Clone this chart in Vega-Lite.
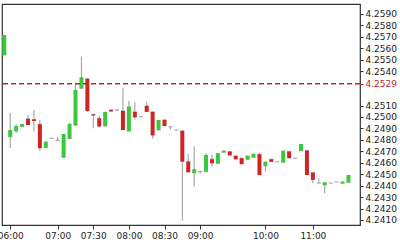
{
  "$schema": "https://vega.github.io/schema/vega-lite/v6.json",
  "width": 358,
  "height": 221,
  "autosize": {"type": "none"},
  "padding": {"left": 2, "top": 4, "right": 40, "bottom": 22},
  "background": "white",
  "config": {
    "view": {"stroke": "#333333", "strokeWidth": 1.2},
    "axis": {"labelFont": "DejaVu Sans", "labelFontSize": 9, "labelColor": "#222222", "grid": false, "domain": false, "title": null, "labelOverlap": false}
  },
  "data": {"values": [
    {"i": -1, "o": 4.25542, "h": 4.25717, "l": 4.25542, "c": 4.25717},
    {"i": 0, "o": 4.24828, "h": 4.25035, "l": 4.24729, "c": 4.24886},
    {"i": 1, "o": 4.24878, "h": 4.24939, "l": 4.24860, "c": 4.24921},
    {"i": 2, "o": 4.24917, "h": 4.24939, "l": 4.24917, "c": 4.24939},
    {"i": 3, "o": 4.24983, "h": 4.25017, "l": 4.24930, "c": 4.24930},
    {"i": 4, "o": 4.24978, "h": 4.25061, "l": 4.24873, "c": 4.24965},
    {"i": 5, "o": 4.24936, "h": 4.24974, "l": 4.24703, "c": 4.24727},
    {"i": 6, "o": 4.24734, "h": 4.24790, "l": 4.24729, "c": 4.24784},
    {"i": 7, "o": 4.24814, "h": 4.24817, "l": 4.24810, "c": 4.24814},
    {"i": 8, "o": 4.24795, "h": 4.24825, "l": 4.24795, "c": 4.24795},
    {"i": 9, "o": 4.24648, "h": 4.24851, "l": 4.24648, "c": 4.24851},
    {"i": 10, "o": 4.24812, "h": 4.24948, "l": 4.24808, "c": 4.24939},
    {"i": 11, "o": 4.24930, "h": 4.25288, "l": 4.24921, "c": 4.25236},
    {"i": 12, "o": 4.25251, "h": 4.25529, "l": 4.25249, "c": 4.25347},
    {"i": 13, "o": 4.25332, "h": 4.25341, "l": 4.25044, "c": 4.25052},
    {"i": 14, "o": 4.25022, "h": 4.25026, "l": 4.24901, "c": 4.25013},
    {"i": 15, "o": 4.24987, "h": 4.25009, "l": 4.24913, "c": 4.24917},
    {"i": 16, "o": 4.24921, "h": 4.25044, "l": 4.24921, "c": 4.25044},
    {"i": 17, "o": 4.25061, "h": 4.25066, "l": 4.25046, "c": 4.25048},
    {"i": 18, "o": 4.25061, "h": 4.25066, "l": 4.25057, "c": 4.25061},
    {"i": 19, "o": 4.25052, "h": 4.25251, "l": 4.24886, "c": 4.24886},
    {"i": 20, "o": 4.24878, "h": 4.25140, "l": 4.24878, "c": 4.25092},
    {"i": 21, "o": 4.25044, "h": 4.25131, "l": 4.24978, "c": 4.24997},
    {"i": 22, "o": 4.25003, "h": 4.25006, "l": 4.25000, "c": 4.25003},
    {"i": 23, "o": 4.25096, "h": 4.25134, "l": 4.25041, "c": 4.25044},
    {"i": 24, "o": 4.25044, "h": 4.25044, "l": 4.24812, "c": 4.24838},
    {"i": 25, "o": 4.24886, "h": 4.24974, "l": 4.24886, "c": 4.24974},
    {"i": 26, "o": 4.24974, "h": 4.24974, "l": 4.24921, "c": 4.24921},
    {"i": 27, "o": 4.24914, "h": 4.24914, "l": 4.24891, "c": 4.24914},
    {"i": 28, "o": 4.24886, "h": 4.24886, "l": 4.24886, "c": 4.24886},
    {"i": 29, "o": 4.24878, "h": 4.24878, "l": 4.24094, "c": 4.24609},
    {"i": 30, "o": 4.24609, "h": 4.24674, "l": 4.24508, "c": 4.24517},
    {"i": 31, "o": 4.24513, "h": 4.24740, "l": 4.24391, "c": 4.24543},
    {"i": 32, "o": 4.24524, "h": 4.24528, "l": 4.24502, "c": 4.24524},
    {"i": 33, "o": 4.24522, "h": 4.24683, "l": 4.24522, "c": 4.24668},
    {"i": 34, "o": 4.24630, "h": 4.24672, "l": 4.24566, "c": 4.24595},
    {"i": 35, "o": 4.24595, "h": 4.24685, "l": 4.24592, "c": 4.24683},
    {"i": 36, "o": 4.24692, "h": 4.24706, "l": 4.24692, "c": 4.24706},
    {"i": 37, "o": 4.24697, "h": 4.24697, "l": 4.24664, "c": 4.24664},
    {"i": 38, "o": 4.24659, "h": 4.24659, "l": 4.24630, "c": 4.24630},
    {"i": 39, "o": 4.24639, "h": 4.24639, "l": 4.24587, "c": 4.24587},
    {"i": 40, "o": 4.24630, "h": 4.24662, "l": 4.24630, "c": 4.24662},
    {"i": 41, "o": 4.24648, "h": 4.24683, "l": 4.24648, "c": 4.24677},
    {"i": 42, "o": 4.24674, "h": 4.24681, "l": 4.24493, "c": 4.24493},
    {"i": 43, "o": 4.24574, "h": 4.24611, "l": 4.24522, "c": 4.24609},
    {"i": 44, "o": 4.24630, "h": 4.24630, "l": 4.24607, "c": 4.24607},
    {"i": 45, "o": 4.24609, "h": 4.24609, "l": 4.24609, "c": 4.24609},
    {"i": 46, "o": 4.24604, "h": 4.24706, "l": 4.24604, "c": 4.24706},
    {"i": 47, "o": 4.24697, "h": 4.24703, "l": 4.24637, "c": 4.24639},
    {"i": 48, "o": 4.24639, "h": 4.24639, "l": 4.24639, "c": 4.24639},
    {"i": 49, "o": 4.24706, "h": 4.24764, "l": 4.24706, "c": 4.24764},
    {"i": 50, "o": 4.24706, "h": 4.24706, "l": 4.24493, "c": 4.24493},
    {"i": 51, "o": 4.24513, "h": 4.24513, "l": 4.24421, "c": 4.24450},
    {"i": 52, "o": 4.24423, "h": 4.24463, "l": 4.24423, "c": 4.24423},
    {"i": 53, "o": 4.24406, "h": 4.24432, "l": 4.24333, "c": 4.24429},
    {"i": 54, "o": 4.24423, "h": 4.24423, "l": 4.24423, "c": 4.24423},
    {"i": 55, "o": 4.24432, "h": 4.24432, "l": 4.24432, "c": 4.24432},
    {"i": 56, "o": 4.24421, "h": 4.24435, "l": 4.24421, "c": 4.24435},
    {"i": 57, "o": 4.24429, "h": 4.24493, "l": 4.24429, "c": 4.24493}
  ]},
  "layer": [
    {
      "mark": {"type": "rule", "color": "#999999", "strokeWidth": 1, "clip": false},
      "encoding": {
        "x": {
          "field": "i", "type": "quantitative",
          "scale": {"domain": [-0.54, 58.1], "nice": false, "zero": false},
          "axis": {
            "values": [0, 8, 14, 20, 26, 32, 43, 51],
            "labelExpr": "datum.value == 0 ? '06:00' : datum.value == 8 ? '07:00' : datum.value == 14 ? '07:30' : datum.value == 20 ? '08:00' : datum.value == 26 ? '08:30' : datum.value == 32 ? '09:00' : datum.value == 43 ? '10:00' : '11:00'",
            "tickSize": 4, "tickColor": "#333333", "labelPadding": 2, "labelFlush": false
          }
        },
        "y": {
          "field": "l", "type": "quantitative",
          "scale": {"domain": [4.24056, 4.25987], "nice": false, "zero": false},
          "axis": {
            "orient": "right",
            "values": [4.241, 4.242, 4.243, 4.244, 4.245, 4.246, 4.247, 4.248, 4.249, 4.25, 4.251, 4.2529, 4.254, 4.255, 4.256, 4.257, 4.258, 4.259],
            "format": ".4f",
            "tickSize": 3,
            "labelPadding": 2,
            "labelColor": {"condition": {"test": "abs(datum.value - 4.2529) < 0.00001", "value": "#b82828"}, "value": "#222222"},
            "tickColor": {"condition": {"test": "abs(datum.value - 4.2529) < 0.00001", "value": "#b82828"}, "value": "#333333"}
          }
        },
        "y2": {"field": "h"}
      }
    },
    {
      "mark": {"type": "tick", "orient": "horizontal", "color": "#888888", "size": 4, "thickness": 1.2, "clip": false},
      "encoding": {
        "x": {
          "field": "i", "type": "quantitative",
          "scale": {"domain": [-0.54, 58.1], "nice": false, "zero": false},
          "axis": {
            "values": [0, 8, 14, 20, 26, 32, 43, 51],
            "labelExpr": "datum.value == 0 ? '06:00' : datum.value == 8 ? '07:00' : datum.value == 14 ? '07:30' : datum.value == 20 ? '08:00' : datum.value == 26 ? '08:30' : datum.value == 32 ? '09:00' : datum.value == 43 ? '10:00' : '11:00'",
            "tickSize": 4, "tickColor": "#333333", "labelPadding": 2, "labelFlush": false
          }
        },
        "y": {
          "field": "o", "type": "quantitative",
          "scale": {"domain": [4.24056, 4.25987], "nice": false, "zero": false},
          "axis": {
            "orient": "right",
            "values": [4.241, 4.242, 4.243, 4.244, 4.245, 4.246, 4.247, 4.248, 4.249, 4.25, 4.251, 4.2529, 4.254, 4.255, 4.256, 4.257, 4.258, 4.259],
            "format": ".4f",
            "tickSize": 3,
            "labelPadding": 2,
            "labelColor": {"condition": {"test": "abs(datum.value - 4.2529) < 0.00001", "value": "#b82828"}, "value": "#222222"},
            "tickColor": {"condition": {"test": "abs(datum.value - 4.2529) < 0.00001", "value": "#b82828"}, "value": "#333333"}
          }
        }
      }
    },
    {
      "mark": {"type": "bar", "size": 4, "clip": false},
      "encoding": {
        "x": {
          "field": "i", "type": "quantitative",
          "scale": {"domain": [-0.54, 58.1], "nice": false, "zero": false},
          "axis": {
            "values": [0, 8, 14, 20, 26, 32, 43, 51],
            "labelExpr": "datum.value == 0 ? '06:00' : datum.value == 8 ? '07:00' : datum.value == 14 ? '07:30' : datum.value == 20 ? '08:00' : datum.value == 26 ? '08:30' : datum.value == 32 ? '09:00' : datum.value == 43 ? '10:00' : '11:00'",
            "tickSize": 4, "tickColor": "#333333", "labelPadding": 2, "labelFlush": false
          }
        },
        "y": {
          "field": "o", "type": "quantitative",
          "scale": {"domain": [4.24056, 4.25987], "nice": false, "zero": false},
          "axis": {
            "orient": "right",
            "values": [4.241, 4.242, 4.243, 4.244, 4.245, 4.246, 4.247, 4.248, 4.249, 4.25, 4.251, 4.2529, 4.254, 4.255, 4.256, 4.257, 4.258, 4.259],
            "format": ".4f",
            "tickSize": 3,
            "labelPadding": 2,
            "labelColor": {"condition": {"test": "abs(datum.value - 4.2529) < 0.00001", "value": "#b82828"}, "value": "#222222"},
            "tickColor": {"condition": {"test": "abs(datum.value - 4.2529) < 0.00001", "value": "#b82828"}, "value": "#333333"}
          }
        },
        "y2": {"field": "c"},
        "color": {"condition": {"test": "datum.c > datum.o", "value": "#3cc83c"}, "value": "#d02424"}
      }
    },
    {
      "data": {"values": [{"p": 4.2529}]},
      "mark": {"type": "rule", "color": "#b82828", "strokeWidth": 1.5, "strokeDash": [5, 3]},
      "encoding": {
        "y": {
          "field": "p", "type": "quantitative",
          "scale": {"domain": [4.24056, 4.25987], "nice": false, "zero": false},
          "axis": {
            "orient": "right",
            "values": [4.241, 4.242, 4.243, 4.244, 4.245, 4.246, 4.247, 4.248, 4.249, 4.25, 4.251, 4.2529, 4.254, 4.255, 4.256, 4.257, 4.258, 4.259],
            "format": ".4f",
            "tickSize": 3,
            "labelPadding": 2,
            "labelColor": {"condition": {"test": "abs(datum.value - 4.2529) < 0.00001", "value": "#b82828"}, "value": "#222222"},
            "tickColor": {"condition": {"test": "abs(datum.value - 4.2529) < 0.00001", "value": "#b82828"}, "value": "#333333"}
          }
        }
      }
    }
  ]
}
